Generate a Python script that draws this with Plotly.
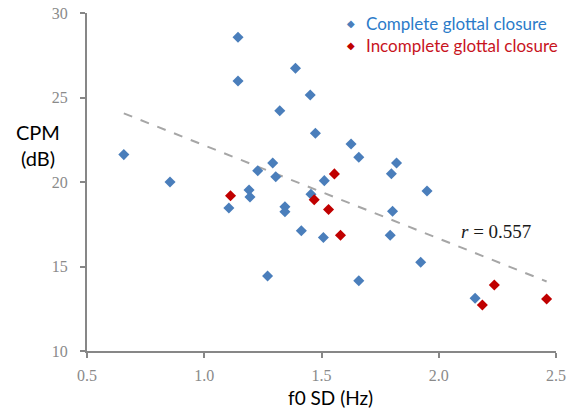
import numpy as np
import plotly.graph_objects as go

# Complete glottal closure
complete_x = [1.144, 1.144, 1.389, 1.452, 1.322, 1.474, 0.657, 1.292, 1.228, 1.305,
              1.512, 0.854, 1.626, 1.659, 1.820, 1.798, 1.191, 1.195, 1.105, 1.344,
              1.344, 1.414, 1.508, 1.270, 1.455, 1.950, 1.803, 1.793, 1.923, 1.659,
              2.155]
complete_y = [28.56, 25.98, 26.73, 25.15, 24.22, 22.88, 21.62, 21.12, 20.67, 20.31,
              20.08, 20.00, 22.25, 21.46, 21.12, 20.49, 19.53, 19.11, 18.46, 18.54,
              18.24, 17.12, 16.72, 14.44, 19.27, 19.47, 18.27, 16.85, 15.25, 14.16,
              13.12]
# Incomplete glottal closure
incomplete_x = [1.555, 1.112, 1.469, 1.530, 1.581, 2.237, 2.186, 2.460]
incomplete_y = [20.48, 19.19, 18.95, 18.37, 16.85, 13.91, 12.72, 13.08]

x_ticks = [0.5, 1.0, 1.5, 2.0, 2.5]
y_ticks = [10, 15, 20, 25, 30]
series_names = ["Complete glottal closure", "Incomplete glottal closure"]
r_label = "<i>r</i> = 0.557"

W, H = 568, 410
L, R, T, B = 87, 12, 13, 58.5
PW, PH = W - L - R, H - T - B


def px_x(p):
    return (p - L) / PW


def px_y(p):
    return 1 - (p - T) / PH


all_x = np.array(complete_x + incomplete_x)
all_y = np.array(complete_y + incomplete_y)
slope, intercept = np.polyfit(all_x, all_y, 1)
tx = np.array([all_x.min(), all_x.max()])
ty = slope * tx + intercept

BLUE, RED = "#4A7EBB", "#C00000"
BLUE_TXT, RED_TXT = "#2B7BC9", "#C8141E"

fig = go.Figure()
fig.add_trace(go.Scatter(x=tx, y=ty, mode="lines", showlegend=False,
                         line=dict(color="#A6A6A6", width=2, dash="dash"), hoverinfo="skip"))
fig.add_trace(go.Scatter(x=complete_x, y=complete_y, mode="markers", showlegend=False,
                         name=series_names[0],
                         marker=dict(symbol="diamond", size=8.5, color=BLUE)))
fig.add_trace(go.Scatter(x=incomplete_x, y=incomplete_y, mode="markers", showlegend=False,
                         name=series_names[1],
                         marker=dict(symbol="diamond", size=8.5, color=RED)))

axis_common = dict(showgrid=False, zeroline=False, showline=True, linecolor="#878787",
                   linewidth=2, ticks="outside", ticklen=5, tickcolor="#878787", tickwidth=2,
                   automargin=False, ticklabeloverflow="allow",
                   tickfont=dict(family="Liberation Serif", size=16, color="#8A8A8A"))
fig.update_xaxes(range=[0.5, 2.5], tickvals=x_ticks, ticktext=[f"{v:.1f}" for v in x_ticks],
                 ticklabelstandoff=4, **axis_common)
fig.update_yaxes(range=[10, 30], tickvals=y_ticks, ticktext=[str(v) for v in y_ticks],
                 ticklabelstandoff=9, **axis_common)

# correlation label
fig.add_annotation(x=2.245, y=17.09, text=r_label, showarrow=False, xanchor="center",
                   yanchor="middle",
                   font=dict(family="Liberation Serif", size=19, color="#1A1A1A"))
# axis titles
fig.add_annotation(xref="paper", yref="paper", x=px_x(37.5), y=px_y(145), text="CPM<br>(dB)",
                   showarrow=False, xanchor="center", yanchor="middle",
                   font=dict(family="Lato", size=20, color="#000000"))
fig.add_annotation(xref="paper", yref="paper", x=px_x(330), y=px_y(398), text="f0 SD (Hz)",
                   showarrow=False, xanchor="center", yanchor="middle",
                   font=dict(family="Lato", size=19, color="#000000"))

# legend
for name, mcol, tcol, row_y in [(series_names[0], BLUE, BLUE_TXT, 24),
                                (series_names[1], RED, RED_TXT, 46)]:
    fig.add_annotation(xref="paper", yref="paper", x=px_x(351), y=px_y(row_y), text="◆",
                       showarrow=False, xanchor="center", yanchor="middle",
                       font=dict(family="DejaVu Sans", size=10, color=mcol))
    fig.add_annotation(xref="paper", yref="paper", x=px_x(364), y=px_y(row_y), text=name,
                       showarrow=False, xanchor="left", yanchor="middle",
                       font=dict(family="Lato", size=17, color=tcol))

fig.update_layout(
    template="none",
    width=W, height=H,
    margin=dict(l=L, r=R, t=T, b=B, pad=0),
    plot_bgcolor="white", paper_bgcolor="white",
    showlegend=False,
    hovermode=False,
)

# remove the page's default 8px body margin so the figure fills the window exactly
fig.write_html("out.html", config={"displayModeBar": False, "staticPlot": True},
               post_script="document.body.style.margin='0';")
